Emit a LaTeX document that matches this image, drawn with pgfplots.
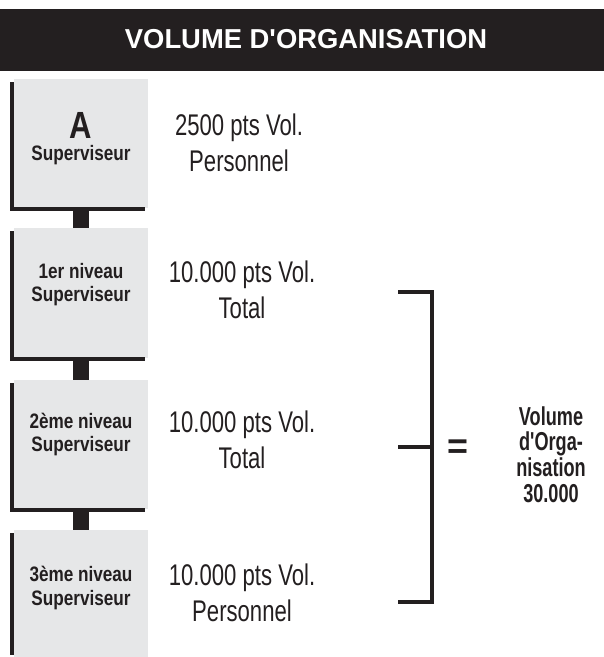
\documentclass[border=0pt]{standalone}
\usepackage{pgfplots}
\pgfplotsset{compat=1.18}
\usepackage{fontspec}
\setmainfont{Liberation Sans}
\newfontfamily\plainsans{Liberation Sans}
\newfontfamily\condR[FakeStretch=0.74]{Liberation Sans}
\newfontfamily\condB[FakeStretch=0.82]{Liberation Sans}
\newfontfamily\condV[FakeStretch=0.70]{Liberation Sans}
\definecolor{boxgray}{HTML}{E6E7E8}
\definecolor{ink}{HTML}{231F20}
\begin{document}
\begin{tikzpicture}
\begin{axis}[
  scale only axis, width=604bp, height=657bp,
  xmin=0, xmax=604, ymin=0, ymax=657, y dir=reverse,
  hide axis, clip=false,
]
% invisible frame that fixes the page size
\addplot[draw=none, fill=none] coordinates {(0,0) (604,0) (604,657) (0,657)};
% title bar
\addplot[fill=ink, draw=none] coordinates {(0,9) (604,9) (604,71) (0,71)} --cycle;
% boxes (gray)
\addplot[fill=boxgray, draw=none] coordinates {(14,79) (148,79) (148,208) (14,208)} --cycle;
\addplot[fill=boxgray, draw=none] coordinates {(14,228) (148,228) (148,358) (14,358)} --cycle;
\addplot[fill=boxgray, draw=none] coordinates {(14,380) (148,380) (148,509) (14,509)} --cycle;
\addplot[fill=boxgray, draw=none] coordinates {(14,530) (148,530) (148,657) (14,657)} --cycle;
% left bars
\addplot[fill=ink, draw=none] coordinates {(10,82) (14,82) (14,211) (10,211)} --cycle;
\addplot[fill=ink, draw=none] coordinates {(10,231) (14,231) (14,361) (10,361)} --cycle;
\addplot[fill=ink, draw=none] coordinates {(10,383) (14,383) (14,512) (10,512)} --cycle;
\addplot[fill=ink, draw=none] coordinates {(10,533) (14,533) (14,655) (10,655)} --cycle;
% bottom lines
\addplot[fill=ink, draw=none] coordinates {(10,207) (145,207) (145,211) (10,211)} --cycle;
\addplot[fill=ink, draw=none] coordinates {(10,357) (145,357) (145,361) (10,361)} --cycle;
\addplot[fill=ink, draw=none] coordinates {(10,508) (145,508) (145,512) (10,512)} --cycle;
% connectors
\addplot[fill=ink, draw=none] coordinates {(73,211) (89,211) (89,228) (73,228)} --cycle;
\addplot[fill=ink, draw=none] coordinates {(73,361) (89,361) (89,380) (73,380)} --cycle;
\addplot[fill=ink, draw=none] coordinates {(73,512) (89,512) (89,530) (73,530)} --cycle;
% bracket
\addplot[ink, line width=4bp, line join=miter] coordinates {(398,292) (432,292) (432,602) (398,602)};
\addplot[ink, line width=4bp] coordinates {(398,447) (432,447)};

% title
\node[anchor=base, text=white, font=\plainsans\bfseries\fontsize{27.5}{30}\selectfont] at (axis cs:306,49) {VOLUME D'ORGANISATION};

% box texts
\node[anchor=base, text=ink, font=\condB\bfseries\fontsize{38}{40}\selectfont] at (axis cs:81,138) {A};
\node[anchor=base, text=ink, font=\condB\bfseries\fontsize{21}{24}\selectfont] at (axis cs:81,160) {Superviseur};
\node[anchor=base, text=ink, font=\condB\bfseries\fontsize{21}{24}\selectfont] at (axis cs:81,278) {1er niveau};
\node[anchor=base, text=ink, font=\condB\bfseries\fontsize{21}{24}\selectfont] at (axis cs:81,301) {Superviseur};
\node[anchor=base, text=ink, font=\condB\bfseries\fontsize{21}{24}\selectfont] at (axis cs:81,428) {2ème niveau};
\node[anchor=base, text=ink, font=\condB\bfseries\fontsize{21}{24}\selectfont] at (axis cs:81,451) {Superviseur};
\node[anchor=base, text=ink, font=\condB\bfseries\fontsize{21}{24}\selectfont] at (axis cs:81,581) {3ème niveau};
\node[anchor=base, text=ink, font=\condB\bfseries\fontsize{21}{24}\selectfont] at (axis cs:81,605) {Superviseur};

% right texts
\node[anchor=base, text=ink, font=\condR\fontsize{30}{33}\selectfont] at (axis cs:239,135) {2500 pts Vol.};
\node[anchor=base, text=ink, font=\condR\fontsize{30}{33}\selectfont] at (axis cs:239,171) {Personnel};
\node[anchor=base, text=ink, font=\condR\fontsize{30}{33}\selectfont] at (axis cs:242,282) {10.000 pts Vol.};
\node[anchor=base, text=ink, font=\condR\fontsize{30}{33}\selectfont] at (axis cs:242,318) {Total};
\node[anchor=base, text=ink, font=\condR\fontsize{30}{33}\selectfont] at (axis cs:242,432) {10.000 pts Vol.};
\node[anchor=base, text=ink, font=\condR\fontsize{30}{33}\selectfont] at (axis cs:242,468) {Total};
\node[anchor=base, text=ink, font=\condR\fontsize{30}{33}\selectfont] at (axis cs:242,585) {10.000 pts Vol.};
\node[anchor=base, text=ink, font=\condR\fontsize{30}{33}\selectfont] at (axis cs:242,621) {Personnel};

% equals and result
\node[anchor=center, text=ink, font=\bfseries\fontsize{36}{40}\selectfont] at (axis cs:458,449) {=};
\node[anchor=base, text=ink, font=\condV\bfseries\fontsize{26}{29}\selectfont] at (axis cs:551,425) {Volume};
\node[anchor=base, text=ink, font=\condV\bfseries\fontsize{26}{29}\selectfont] at (axis cs:551,450) {d'Orga-};
\node[anchor=base, text=ink, font=\condV\bfseries\fontsize{26}{29}\selectfont] at (axis cs:551,476) {nisation};
\node[anchor=base, text=ink, font=\condV\bfseries\fontsize{26}{29}\selectfont] at (axis cs:551,502) {30.000};
\end{axis}
\end{tikzpicture}
\end{document}
